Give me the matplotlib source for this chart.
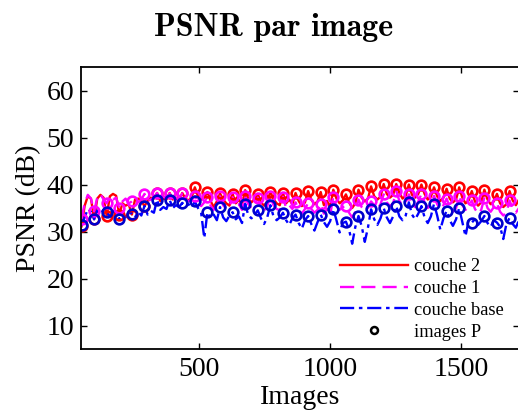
# PSNR par image - couches 2 / 1 / base, with P frames circled

import numpy as np
import matplotlib
matplotlib.use("Agg")
import matplotlib.pyplot as plt
from matplotlib.lines import Line2D

plt.rcParams['font.family'] = ['Liberation Serif', 'DejaVu Serif']

# frames: one sample every 12 frames, P frame every 48 (first sample of each group of 4)
first_frame = 52
step = 12
gop = 4

# PSNR values (dB), groups of 4 per GOP: [P, then 3 other frames]
couche2 = [
    31.1, 35.5, 37.5, 37.0,  32.6, 37.0, 37.8, 37.2,  33.3, 37.5, 38.0, 37.6,
    33.6, 36.0, 35.5, 35.8,  33.6, 36.8, 37.0, 36.5,  35.4, 36.5, 37.2, 37.0,
    38.2, 36.5, 37.0, 36.8,  38.2, 36.8, 37.2, 36.5,  38.2, 37.0, 36.6, 37.3,
    39.4, 37.5, 36.8, 37.2,  38.4, 36.5, 35.2, 36.4,  38.1, 36.8, 36.0, 35.5,
    38.0, 36.0, 36.7, 35.8,  38.8, 37.0, 36.2, 36.9,  38.0, 36.2, 35.5, 36.4,
    38.4, 36.9, 36.0, 35.6,  38.2, 36.0, 36.8, 35.8,  38.2, 36.5, 35.4, 36.2,
    38.6, 36.8, 35.8, 36.4,  38.4, 35.6, 36.5, 35.2,  38.9, 37.0, 36.0, 36.6,
    37.9, 36.2, 35.0, 36.0,  38.9, 37.2, 36.4, 37.0,  39.6, 37.5, 36.8, 37.4,
    40.1, 38.0, 37.2, 37.8,  40.1, 38.2, 37.0, 37.6,  40.0, 37.8, 37.2, 38.0,
    40.0, 38.0, 36.8, 37.4,  39.4, 37.5, 36.5, 37.2,  39.1, 37.0, 36.2, 36.8,
    39.4, 37.2, 36.0, 36.6,  38.6, 36.4, 35.5, 36.2,  38.9, 36.8, 35.8, 36.4,
    38.0, 36.0, 35.2, 35.8,  38.6, 36.6, 35.6, 36.8,
]

couche1 = [
    32.6, 36.0, 37.8, 37.0,  34.3, 37.2, 38.0, 36.8,  36.0, 37.4, 36.8, 37.2,
    35.0, 36.4, 37.0, 36.0,  36.4, 37.0, 36.2, 36.8,  38.0, 36.5, 36.8, 37.2,
    38.2, 36.8, 37.5, 37.0,  38.1, 36.6, 37.2, 36.8,  38.1, 36.9, 36.4, 37.0,
    37.5, 36.0, 35.4, 36.2,  37.4, 35.5, 34.6, 35.8,  37.5, 35.6, 34.8, 35.2,
    37.3, 35.2, 35.8, 34.6,  37.6, 35.8, 35.0, 35.6,  37.2, 35.0, 34.4, 35.4,
    37.5, 35.6, 34.8, 34.5,  37.4, 35.0, 35.6, 34.8,  36.2, 34.6, 33.8, 34.8,
    36.1, 34.8, 34.0, 34.6,  35.9, 33.8, 34.8, 33.6,  37.3, 35.4, 34.6, 35.2,
    35.4, 34.0, 33.0, 34.2,  36.8, 35.2, 34.4, 35.0,  36.4, 35.6, 34.8, 35.8,
    37.9, 36.2, 35.4, 36.0,  38.6, 36.5, 35.6, 36.2,  37.9, 36.0, 35.2, 36.4,
    38.0, 36.2, 35.0, 35.8,  37.6, 35.8, 34.8, 35.6,  37.0, 35.2, 34.2, 35.0,
    37.5, 35.6, 34.6, 35.2,  36.6, 34.8, 33.8, 34.6,  37.2, 35.0, 34.2, 35.2,
    36.0, 34.2, 33.4, 34.0,  36.6, 34.8, 34.0, 35.0,
]

couche_base = [
    31.3, 33.0, 34.8, 34.2,  32.6, 34.5, 33.8, 34.6,  34.1, 33.2, 34.4, 33.6,
    32.6, 33.8, 33.0, 34.0,  33.8, 33.0, 34.2, 33.4,  35.4, 33.6, 34.4, 34.0,
    36.8, 34.6, 35.2, 34.8,  36.7, 35.0, 35.6, 35.2,  36.1, 35.4, 35.8, 35.0,
    36.4, 35.0, 34.0, 28.6,  34.1, 32.8, 33.6, 32.4,  35.2, 33.0, 32.2, 33.4,
    34.1, 32.6, 33.2, 31.8,  35.9, 33.4, 32.8, 33.6,  34.5, 32.8, 31.6, 33.0,
    35.6, 33.2, 32.4, 33.0,  34.0, 32.4, 31.4, 32.8,  33.6, 31.8, 30.6, 32.4,
    33.3, 31.6, 30.2, 32.0,  33.6, 32.0, 31.0, 32.2,  34.8, 32.4, 29.8, 31.8,
    32.1, 30.4, 27.4, 31.0,  33.3, 31.2, 27.8, 30.8,  34.7, 32.6, 31.4, 32.8,
    35.0, 33.0, 31.8, 33.2,  35.4, 33.2, 32.4, 33.4,  36.2, 33.6, 32.6, 33.8,
    35.4, 33.0, 31.8, 33.2,  35.9, 33.4, 30.4, 32.8,  34.4, 32.4, 31.2, 32.6,
    35.0, 32.0, 29.0, 32.4,  31.9, 32.6, 31.4, 32.2,  33.3, 31.8, 31.0, 32.4,
    31.9, 31.0, 28.4, 31.6,  32.9, 31.6, 30.8, 32.4,
]

frames = first_frame + step * np.arange(len(couche2))
c2 = np.array(couche2)
c1 = np.array(couche1)
cb = np.array(couche_base)
p_idx = np.arange(0, len(frames), gop)

fig = plt.figure(figsize=(5.18, 4.16), dpi=100)
ax = fig.add_axes([81 / 518, 67 / 416, 438 / 518, 282 / 416])

ax.plot(frames, c2, color='red', lw=1.7, ls='-')
ax.plot(frames, c1, color='magenta', lw=1.7, ls=(0, (6, 3)))
ax.plot(frames, cb, color='blue', lw=1.7, ls=(0, (6, 2, 1.5, 2)))

ax.plot(frames[p_idx], c2[p_idx], 'o', mfc='none', mec='red', ms=7, mew=1.9)
ax.plot(frames[p_idx], c1[p_idx], 'o', mfc='none', mec='magenta', ms=7, mew=1.9)
ax.plot(frames[p_idx], cb[p_idx], 'o', mfc='none', mec='#0000cc', ms=7, mew=1.9)

ax.set_xlim(50, 1720)
ax.set_ylim(5, 65)
ax.set_xticks([500, 1000, 1500])
ax.set_yticks([10, 20, 30, 40, 50, 60])
ax.tick_params(direction='in', length=4, width=1, top=True, right=True,
               labelsize=20, pad=5)
ax.tick_params(axis='x', pad=6)
for s in ax.spines.values():
    s.set_linewidth(1.3)

ax.set_xlabel("Images", fontsize=20, labelpad=2)
ax.set_ylabel("PSNR (dB)", fontsize=20, labelpad=4)

fig.text(274 / 518, 1 - 28 / 416, "PSNR par image", family='cmb10',
         fontsize=23, ha='center', va='center')

handles = [
    Line2D([], [], color='red', lw=1.7, ls='-'),
    Line2D([], [], color='magenta', lw=1.7, ls=(0, (6, 3))),
    Line2D([], [], color='blue', lw=1.7, ls=(0, (6, 2, 1.5, 2))),
    Line2D([], [], ls='none', marker='o', mfc='none', mec='black', ms=5, mew=1.8),
]
labels = ["couche 2", "couche 1", "couche base", "images P"]
fig.legend(handles, labels, loc='upper left', bbox_to_anchor=(340 / 518, 1 - 258 / 416),
           frameon=False, fontsize=13.2, handlelength=3.7, handletextpad=0.35,
           labelspacing=0.27, borderpad=0, borderaxespad=0)

fig.savefig("out.png", dpi=100)
